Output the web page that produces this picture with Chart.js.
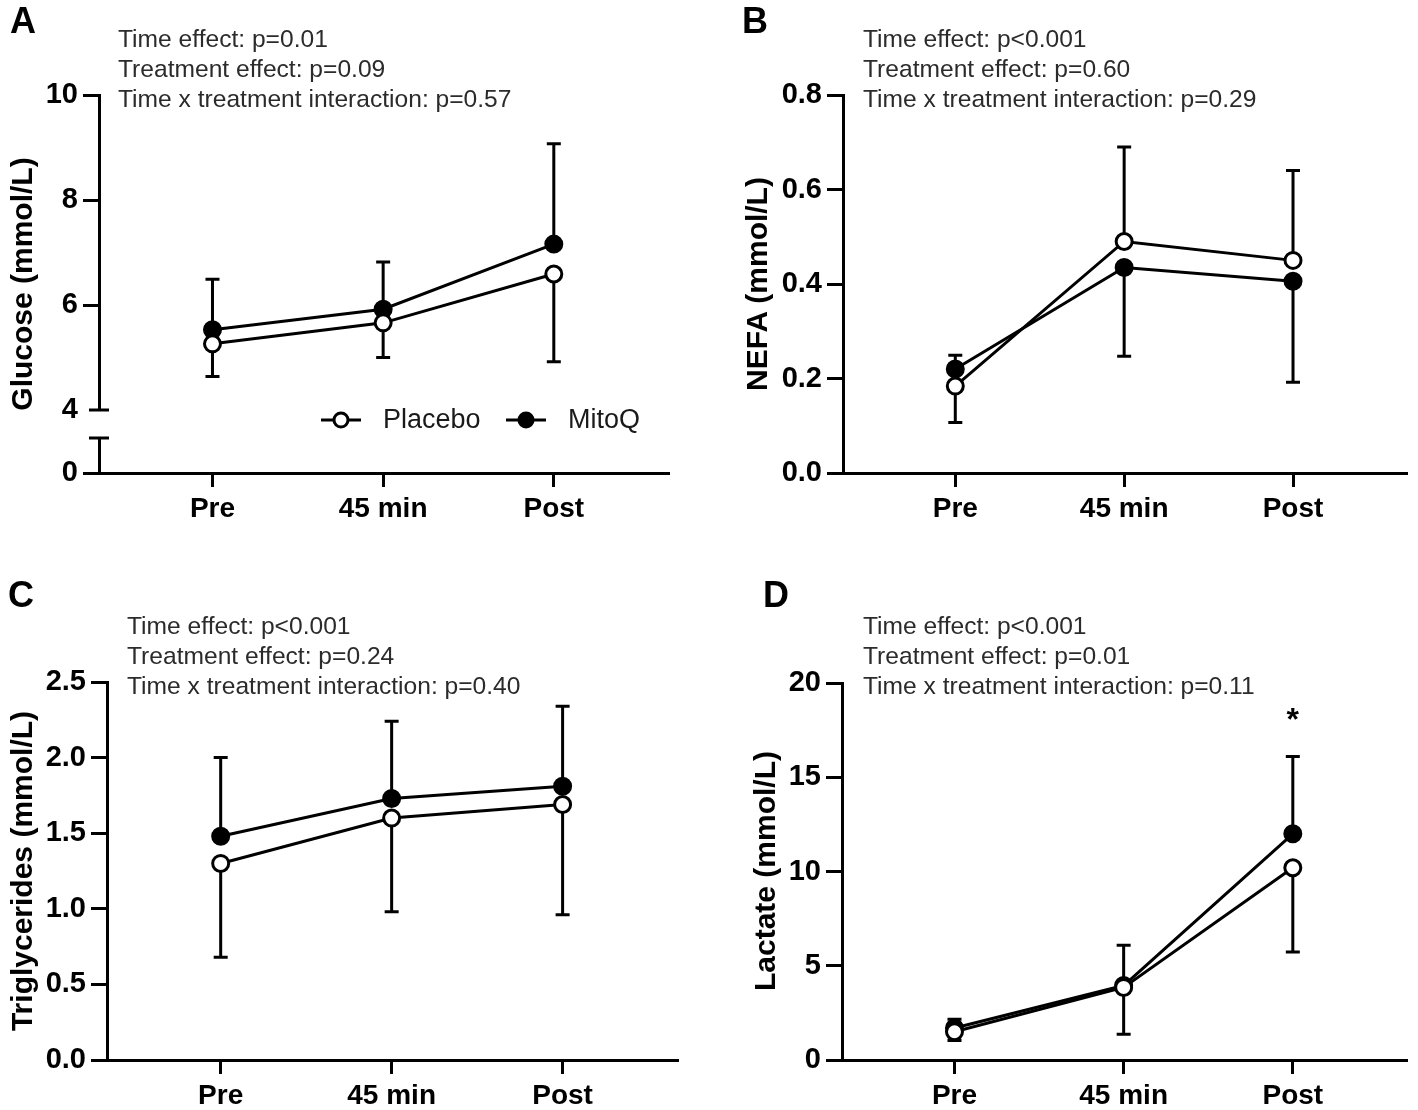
<!DOCTYPE html>
<html>
<head>
<meta charset="utf-8">
<script src="https://cdn.jsdelivr.net/npm/chart.js@4.4.1/dist/chart.umd.min.js"></script>
<style>
  body { margin: 0; background: #fff; }
  #fig { position: relative; width: 1418px; height: 1110px; font-family: "Liberation Sans", Arial, sans-serif; }
  canvas { position: absolute; }
  .letter { position: absolute; font-weight: bold; font-size: 36px; line-height: 36px; color: #000; }
  .note { position: absolute; font-size: 24.6px; line-height: 30px; color: #2b2b2b; white-space: nowrap; }
  .ytitle { position: absolute; font-weight: bold; font-size: 30px; line-height: 30px; color: #000; white-space: nowrap; transform: translate(-50%, -50%) rotate(-90deg); }
</style>
</head>
<body>
<div id="fig">
  <canvas id="glucoseLow" width="709" height="555" style="left:0;top:0"></canvas>
  <canvas id="glucose" width="709" height="555" style="left:0;top:0"></canvas>
  <canvas id="nefa" width="688" height="555" style="left:730px;top:0"></canvas>
  <canvas id="tg" width="709" height="530" style="left:0;top:580px"></canvas>
  <canvas id="lactate" width="688" height="530" style="left:730px;top:580px"></canvas>

  <div class="letter" style="left:10px;top:3px">A</div>
  <div class="letter" style="left:742px;top:3px">B</div>
  <div class="letter" style="left:8px;top:577px">C</div>
  <div class="letter" style="left:763px;top:577px">D</div>

  <div class="note" style="left:118px;top:24px">Time effect: p=0.01<br>Treatment effect: p=0.09<br>Time x treatment interaction: p=0.57</div>
  <div class="note" style="left:863px;top:24px">Time effect: p&lt;0.001<br>Treatment effect: p=0.60<br>Time x treatment interaction: p=0.29</div>
  <div class="note" style="left:127px;top:611px">Time effect: p&lt;0.001<br>Treatment effect: p=0.24<br>Time x treatment interaction: p=0.40</div>
  <div class="note" style="left:863px;top:611px">Time effect: p&lt;0.001<br>Treatment effect: p=0.01<br>Time x treatment interaction: p=0.11</div>

  <div class="ytitle" style="left:22px;top:284px">Glucose (mmol/L)</div>
  <div class="ytitle" style="left:757px;top:284px">NEFA (mmol/L)</div>
  <div class="ytitle" style="left:22px;top:871px">Triglycerides (mmol/L)</div>
  <div class="ytitle" style="left:765px;top:871px">Lactate (mmol/L)</div>
</div>
<script>
// time points (x categories)
const timePoints = ["Pre", "45 min", "Post"];

// means; error = SD, sign gives the side the bar is drawn on
const glucosePlacebo = [5.26, 5.66, 6.59];
const glucosePlaceboErr = [-0.62, -0.66, -1.67];
const glucoseMitoQ = [5.53, 5.92, 7.16];
const glucoseMitoQErr = [0.96, 0.90, 1.91];

const nefaPlacebo = [0.184, 0.49, 0.45];
const nefaPlaceboErr = [-0.077, 0.20, 0.19];
const nefaMitoQ = [0.22, 0.435, 0.406];
const nefaMitoQErr = [0.029, -0.188, -0.214];

const tgPlacebo = [1.30, 1.60, 1.69];
const tgPlaceboErr = [-0.62, -0.62, -0.73];
const tgMitoQ = [1.48, 1.73, 1.81];
const tgMitoQErr = [0.52, 0.51, 0.53];

const lactatePlacebo = [1.5, 3.85, 10.2];
const lactatePlaceboErr = [-0.46, -2.49, -4.47];
const lactateMitoQ = [1.7, 3.95, 12.0];
const lactateMitoQErr = [0.46, 2.14, 4.1];
const lactateMarks = ["", "", "*"];

// y tick values
const glucoseTicks = [4, 6, 8, 10];
const glucoseLowTicks = [0, 1];
const nefaTicks = [0, 0.2, 0.4, 0.6, 0.8];
const tgTicks = [0, 0.5, 1, 1.5, 2, 2.5];
const lactateTicks = [0, 5, 10, 15, 20];

Chart.defaults.font.family = '"Liberation Sans", Arial, sans-serif';
Chart.defaults.color = "#000";

function series(label, values, err, filled) {
  return {
    label: label,
    err: err,
    data: values.map((v, i) => ({ x: i, y: v })),
    borderColor: "#000",
    borderWidth: 3,
    pointRadius: 8,
    pointHoverRadius: 8,
    pointBorderWidth: 3,
    pointBorderColor: "#000",
    pointBackgroundColor: filled ? "#000" : "#fff",
    tension: 0
  };
}

const errorBars = {
  id: "errorBars",
  beforeDatasetsDraw(chart) {
    const { ctx, scales: { x, y } } = chart;
    ctx.save();
    ctx.strokeStyle = "#000";
    ctx.lineWidth = 3;
    chart.data.datasets.forEach(ds => {
      (ds.err || []).forEach((e, i) => {
        if (!e) return;
        const v = ds.data[i].y;
        const px = x.getPixelForValue(i);
        const y0 = y.getPixelForValue(v);
        const y1 = y.getPixelForValue(v + e);
        ctx.beginPath();
        ctx.moveTo(px, y0);
        ctx.lineTo(px, y1);
        ctx.moveTo(px - 7, y1);
        ctx.lineTo(px + 7, y1);
        ctx.stroke();
      });
    });
    ctx.restore();
  }
};

// caps on both sides of the y axis where it is broken
const axisBreak = {
  id: "axisBreak",
  afterDraw(chart, args, opts) {
    if (!opts.values) return;
    const { ctx, scales: { y } } = chart;
    ctx.save();
    ctx.strokeStyle = "#000";
    ctx.lineWidth = 3;
    opts.values.forEach(v => {
      const py = y.getPixelForValue(v);
      ctx.beginPath();
      ctx.moveTo(y.right - 10, py);
      ctx.lineTo(y.right + 10, py);
      ctx.stroke();
    });
    ctx.restore();
  }
};

const lineLegend = {
  id: "lineLegend",
  afterDraw(chart, args, opts) {
    if (!opts.show) return;
    const ctx = chart.ctx;
    ctx.save();
    ctx.font = '27px "Liberation Sans", Arial, sans-serif';
    ctx.textBaseline = "middle";
    chart.data.datasets.forEach((ds, i) => {
      const x0 = opts.x + i * opts.step;
      ctx.strokeStyle = "#000";
      ctx.lineWidth = 3;
      ctx.beginPath();
      ctx.moveTo(x0, opts.y);
      ctx.lineTo(x0 + 40, opts.y);
      ctx.stroke();
      ctx.beginPath();
      ctx.arc(x0 + 20, opts.y, 7, 0, Math.PI * 2);
      ctx.fillStyle = ds.pointBackgroundColor;
      ctx.fill();
      ctx.stroke();
      ctx.fillStyle = "#1a1a1a";
      ctx.fillText(ds.label, x0 + 62, opts.y + 1);
    });
    ctx.restore();
  }
};

const sigMarks = {
  id: "sigMarks",
  afterDatasetsDraw(chart, args, opts) {
    if (!opts.marks) return;
    const { ctx, scales: { x, y } } = chart;
    ctx.save();
    ctx.font = 'bold 32px "Liberation Sans", Arial, sans-serif';
    ctx.fillStyle = "#000";
    ctx.textAlign = "center";
    ctx.textBaseline = "alphabetic";
    opts.marks.forEach((m, i) => {
      if (!m) return;
      let top = -Infinity;
      chart.data.datasets.forEach(ds => {
        top = Math.max(top, ds.data[i].y, ds.data[i].y + (ds.err[i] || 0));
      });
      ctx.fillText(m, x.getPixelForValue(i), y.getPixelForValue(top) - 27);
    });
    ctx.restore();
  }
};

function panelOptions(o) {
  return {
    responsive: false,
    animation: false,
    devicePixelRatio: 1,
    events: [],
    layout: { padding: { left: 0, right: o.padRight, top: o.top, bottom: o.padBottom } },
    plugins: {
      legend: { display: false },
      tooltip: { enabled: false },
      axisBreak: { values: o.caps },
      lineLegend: o.legend || {},
      sigMarks: { marks: o.marks }
    },
    scales: {
      x: {
        type: "linear",
        min: -0.665,
        max: 2.675,
        display: o.showX,
        afterBuildTicks: s => { s.ticks = timePoints.map((t, i) => ({ value: i })); },
        afterFit: s => { s.height = o.showX ? 50 : 0; },
        border: { display: true, color: "#000", width: 3 },
        grid: { display: true, drawOnChartArea: false, drawTicks: true, tickLength: 14, tickWidth: 3, tickColor: "#000" },
        ticks: { color: "#000", padding: 5, autoSkip: false, maxRotation: 0, font: { size: 28, weight: "bold" }, callback: v => timePoints[v] }
      },
      y: {
        type: "linear",
        min: o.yMin,
        max: o.yMax,
        afterBuildTicks: s => { s.ticks = o.yTicks.map(v => ({ value: v })); },
        afterFit: s => { s.width = o.left; },
        border: { display: true, color: "#000", width: 3 },
        grid: {
          display: true, drawOnChartArea: false, drawTicks: true, tickLength: 16, tickWidth: 3,
          tickColor: c => (o.caps && c.tick && o.caps.includes(c.tick.value)) ? "rgba(0,0,0,0)" : "#000"
        },
        ticks: { color: "#000", padding: 5, font: { size: 29, weight: "bold" }, callback: o.fmt }
      }
    }
  };
}

const plugins = [errorBars, axisBreak, lineLegend, sigMarks];

// A: broken axis, lower part holds the 0 and the time axis
new Chart("glucoseLow", {
  type: "line",
  data: { datasets: [] },
  plugins: plugins,
  options: panelOptions({
    left: 99, padRight: 40, top: 438, padBottom: 32, showX: true,
    yMin: 0, yMax: 1, yTicks: glucoseLowTicks, caps: [1],
    fmt: v => (v === 0 ? "0" : "")
  })
});

new Chart("glucose", {
  type: "line",
  data: {
    datasets: [
      series("Placebo", glucosePlacebo, glucosePlaceboErr, false),
      series("MitoQ", glucoseMitoQ, glucoseMitoQErr, true)
    ]
  },
  plugins: plugins,
  options: panelOptions({
    left: 99, padRight: 40, top: 95, padBottom: 145, showX: false,
    yMin: 4, yMax: 10, yTicks: glucoseTicks, caps: [4],
    fmt: v => String(v),
    legend: { show: true, x: 321, y: 420, step: 185 }
  })
});

new Chart("nefa", {
  type: "line",
  data: {
    datasets: [
      series("Placebo", nefaPlacebo, nefaPlaceboErr, false),
      series("MitoQ", nefaMitoQ, nefaMitoQErr, true)
    ]
  },
  plugins: plugins,
  options: panelOptions({
    left: 113, padRight: 3, top: 95, padBottom: 32, showX: true,
    yMin: 0, yMax: 0.8, yTicks: nefaTicks,
    fmt: v => v.toFixed(1)
  })
});

new Chart("tg", {
  type: "line",
  data: {
    datasets: [
      series("Placebo", tgPlacebo, tgPlaceboErr, false),
      series("MitoQ", tgMitoQ, tgMitoQErr, true)
    ]
  },
  plugins: plugins,
  options: panelOptions({
    left: 107, padRight: 31, top: 102, padBottom: 0, showX: true,
    yMin: 0, yMax: 2.5, yTicks: tgTicks,
    fmt: v => v.toFixed(1)
  })
});

new Chart("lactate", {
  type: "line",
  data: {
    datasets: [
      series("Placebo", lactatePlacebo, lactatePlaceboErr, false),
      series("MitoQ", lactateMitoQ, lactateMitoQErr, true)
    ]
  },
  plugins: plugins,
  options: panelOptions({
    left: 112, padRight: 3, top: 103, padBottom: 0, showX: true,
    yMin: 0, yMax: 20, yTicks: lactateTicks,
    fmt: v => String(v),
    marks: lactateMarks
  })
});
</script>
</body>
</html>
